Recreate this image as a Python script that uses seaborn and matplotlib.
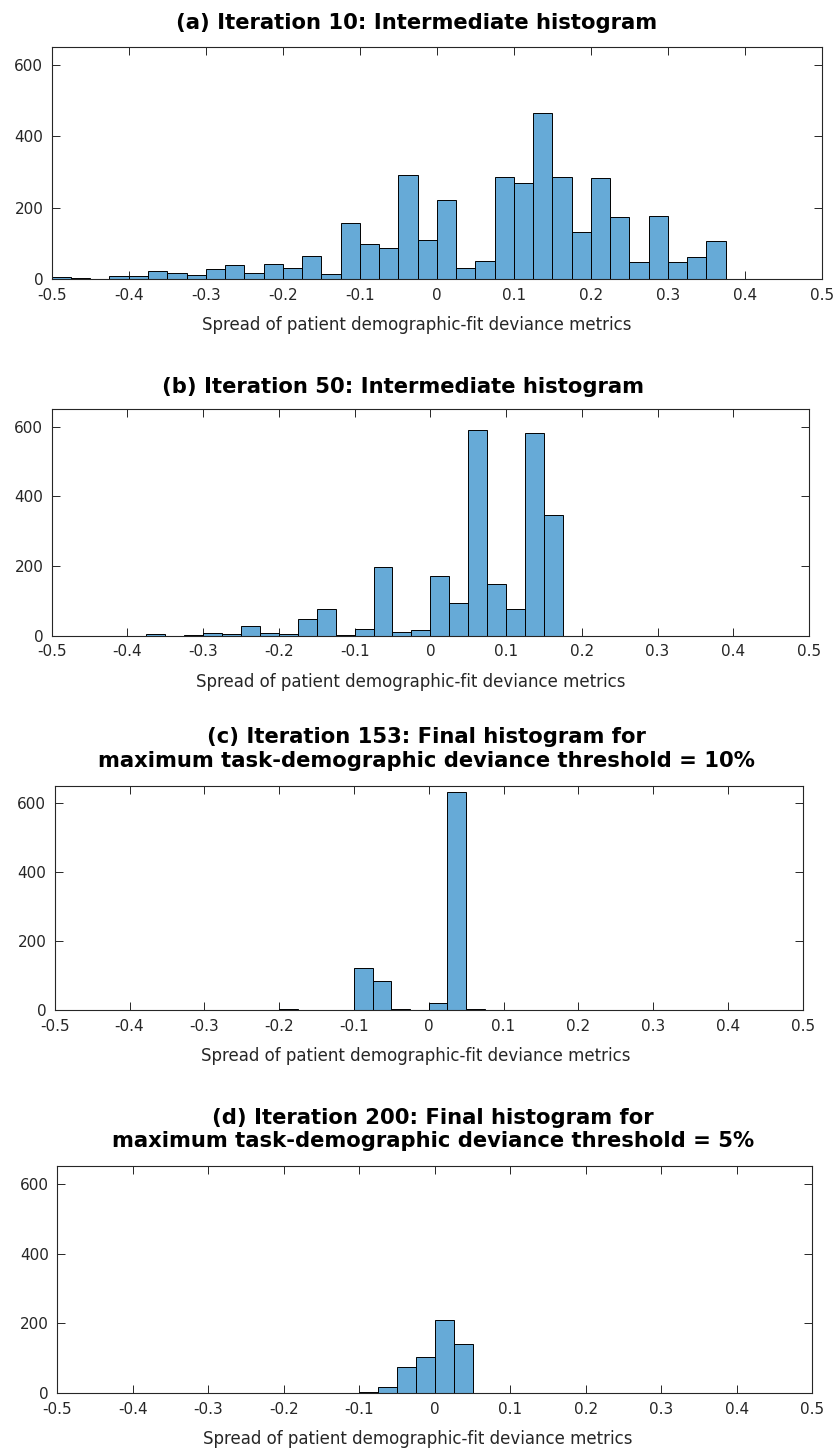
import numpy as np
import pandas as pd
import matplotlib
matplotlib.use("Agg")
import matplotlib.pyplot as plt
import seaborn as sns

# ---- data: histogram counts per 0.025-wide bin, starting at the first edge ----
BIN_WIDTH = 0.025

a_first_edge = -0.5
a_counts = [6, 3, 2, 8, 8, 23, 18, 12, 28, 40, 17, 42, 31, 66, 14,
            157, 99, 88, 291, 109, 221, 31, 51, 287, 269, 466, 285, 132,
            283, 174, 48, 176, 48, 63, 108]

b_first_edge = -0.375
b_counts = [5, 1, 2, 10, 5, 28, 10, 7, 50, 78, 2, 20, 198, 11, 16,
            172, 95, 591, 150, 76, 581, 347]

c_first_edge = -0.2
c_counts = [4, 1, 1, 1, 124, 84, 3, 0, 20, 634, 5]

d_first_edge = -0.1
d_counts = [3, 17, 76, 103, 209, 140]

titles = [
    "(a) Iteration 10: Intermediate histogram",
    "(b) Iteration 50: Intermediate histogram",
    "(c) Iteration 153: Final histogram for\nmaximum task-demographic deviance threshold = 10%",
    "(d) Iteration 200: Final histogram for\nmaximum task-demographic deviance threshold = 5%",
]
x_label = "Spread of patient demographic-fit deviance metrics"
x_ticks = [-0.5, -0.4, -0.3, -0.2, -0.1, 0.0, 0.1, 0.2, 0.3, 0.4, 0.5]
x_tick_labels = ["-0.5", "-0.4", "-0.3", "-0.2", "-0.1", "0",
                 "0.1", "0.2", "0.3", "0.4", "0.5"]
y_ticks = [0, 200, 400, 600]
y_tick_labels = ["0", "200", "400", "600"]

# ---- styling ----
sns.set_style("white")
plt.rcParams["font.family"] = ["DejaVu Sans"]

FACE = "#66AAD7"
EDGE = "#000000"
AXIS_GREY = "#262626"

W, H = 838, 1450
fig = plt.figure(figsize=(W / 100, H / 100), dpi=100)

# axes boxes in pixels: left, right, top, bottom
boxes = [
    (51.7, 822.0, 46.7, 279.3),
    (51.7, 809.0, 409.3, 636.0),
    (54.7, 802.7, 786.0, 1010.3),
    (57.3, 812.3, 1166.3, 1393.3),
]
title_pads = [12.5, 12.0, 14.0, 14.0]
# horizontal centres (pixels) of each panel's title and x label
title_centres = [417, 403, 426.5, 433]
xlabel_centres = [417, 411, 416, 418]

panels = [
    (a_first_edge, a_counts),
    (b_first_edge, b_counts),
    (c_first_edge, c_counts),
    (d_first_edge, d_counts),
]

for i, ((first_edge, counts), (l, r, t, b), title) in enumerate(zip(panels, boxes, titles)):
    ax = fig.add_axes([l / W, 1 - b / H, (r - l) / W, (b - t) / H])
    edges = first_edge + BIN_WIDTH * np.arange(len(counts) + 1)
    df = pd.DataFrame({"spread": edges[:-1] + BIN_WIDTH / 2,
                       "count": np.asarray(counts, dtype=float)})
    sns.histplot(data=df, x="spread", weights="count", bins=list(edges), ax=ax,
                 color=FACE, alpha=1.0, edgecolor=EDGE, linewidth=0.7)
    ax.set_xlim(-0.5, 0.5)
    ax.set_ylim(0, 650)
    ax.set_xticks(x_ticks)
    ax.set_xticklabels(x_tick_labels)
    ax.set_yticks(y_ticks)
    ax.set_yticklabels(y_tick_labels)
    ax.set_ylabel("")
    ax.set_xlabel(x_label, fontsize=12, color=AXIS_GREY, labelpad=9.5,
                  x=(xlabel_centres[i] - l) / (r - l))
    ax.set_title(title, fontsize=15.2, fontweight="bold", color="black",
                 pad=title_pads[i], linespacing=1.2,
                 x=(title_centres[i] - l) / (r - l))
    ax.tick_params(axis="both", which="major", direction="in", length=5.5,
                   width=0.7, color=AXIS_GREY, labelcolor=AXIS_GREY,
                   labelsize=11, pad=6, top=True, right=True,
                   bottom=True, left=True, labeltop=False, labelright=False)
    for side in ("left", "right", "top", "bottom"):
        ax.spines[side].set_visible(True)
        ax.spines[side].set_color(AXIS_GREY)
        ax.spines[side].set_linewidth(0.8)

fig.savefig("out.png", dpi=100, facecolor="white")
